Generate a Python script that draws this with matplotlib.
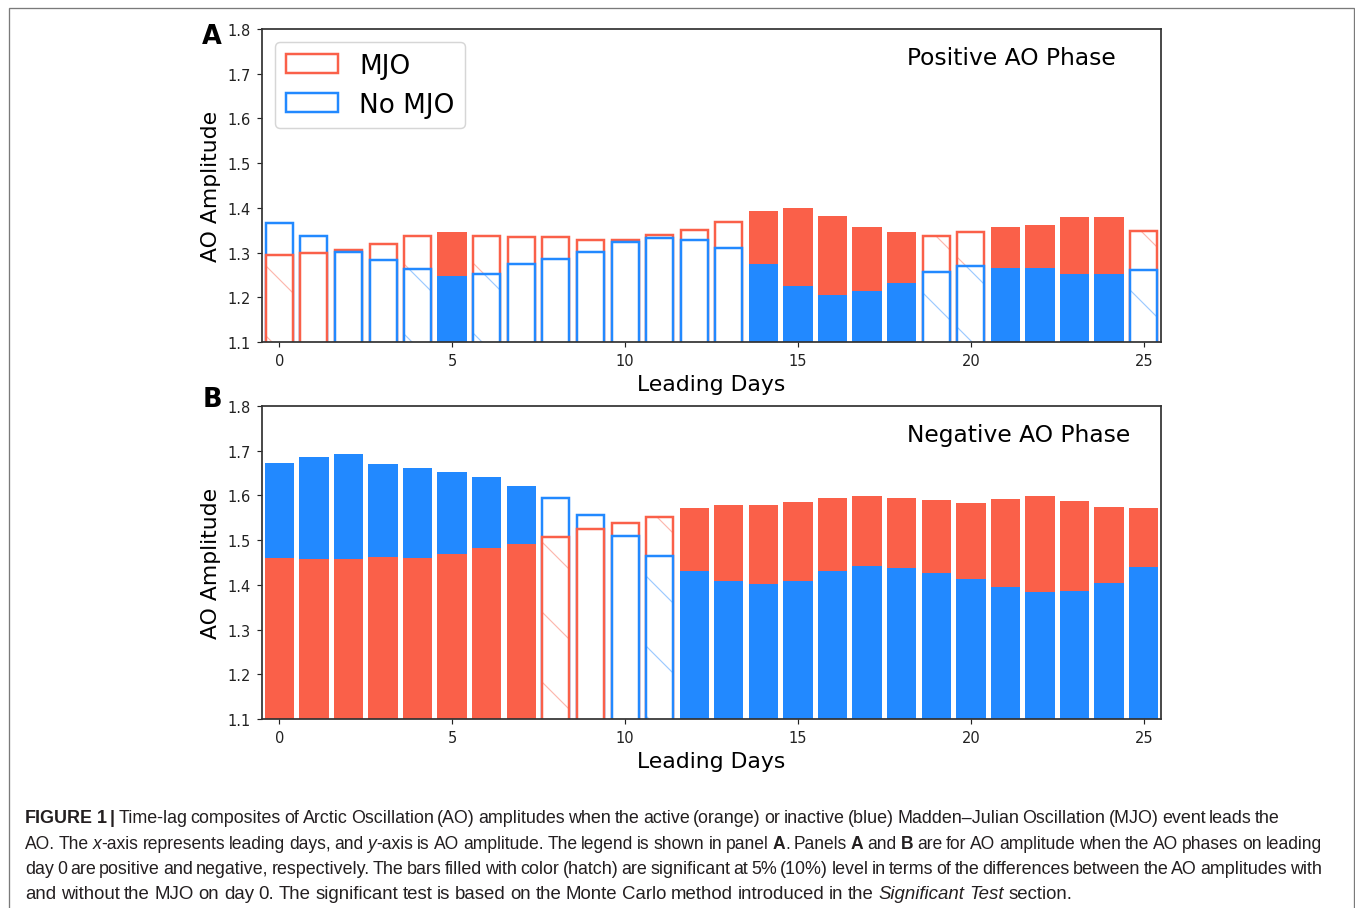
import matplotlib
matplotlib.use('Agg')
import matplotlib.pyplot as plt
from matplotlib.patches import Patch, Rectangle
from matplotlib.colors import to_rgba
from matplotlib import font_manager as fm

# ---------------- data ----------------
days = list(range(26))
xtick_vals = [0, 5, 10, 15, 20, 25]
ytick_vals = [1.1, 1.2, 1.3, 1.4, 1.5, 1.6, 1.7, 1.8]
ytick_labels = ['1.1', '1.2', '1.3', '1.4', '1.5', '1.6', '1.7', '1.8']

# Panel A: positive AO phase
pos_mjo = [1.295, 1.298, 1.306, 1.319, 1.338, 1.345, 1.338, 1.335, 1.335, 1.328,
           1.328, 1.340, 1.351, 1.368, 1.393, 1.399, 1.381, 1.358, 1.345, 1.337,
           1.345, 1.358, 1.361, 1.379, 1.379, 1.349]
pos_nomjo = [1.366, 1.338, 1.301, 1.284, 1.264, 1.247, 1.253, 1.275, 1.285, 1.302,
             1.323, 1.333, 1.327, 1.311, 1.274, 1.226, 1.204, 1.214, 1.233, 1.257,
             1.271, 1.265, 1.265, 1.253, 1.251, 1.260]
# significance: 'f' = 5% (filled), 'h' = 10% (hatch), 'n' = not significant
pos_sig = ['h', 'n', 'n', 'n', 'h', 'f', 'h', 'n', 'n', 'n', 'n', 'n', 'n',
           'n', 'f', 'f', 'f', 'f', 'f', 'h', 'h', 'f', 'f', 'f', 'f', 'h']

# Panel B: negative AO phase
neg_mjo = [1.459, 1.457, 1.457, 1.462, 1.460, 1.469, 1.482, 1.492, 1.506, 1.526,
           1.539, 1.552, 1.571, 1.578, 1.579, 1.586, 1.595, 1.599, 1.595, 1.590,
           1.584, 1.592, 1.599, 1.588, 1.575, 1.571]
neg_nomjo = [1.673, 1.687, 1.692, 1.670, 1.661, 1.653, 1.641, 1.621, 1.594, 1.556,
             1.510, 1.465, 1.432, 1.408, 1.401, 1.408, 1.431, 1.443, 1.437, 1.426,
             1.413, 1.396, 1.383, 1.386, 1.404, 1.440]
neg_sig = ['f', 'f', 'f', 'f', 'f', 'f', 'f', 'f', 'h', 'n', 'n', 'h', 'f',
           'f', 'f', 'f', 'f', 'f', 'f', 'f', 'f', 'f', 'f', 'f', 'f', 'f']

panel_titles = ['Positive AO Phase', 'Negative AO Phase']
panel_letters = ['A', 'B']
legend_labels = ['MJO', 'No MJO']

caption_lines = [
    [("FIGURE 1 |", 'b'),
     (" Time-lag composites of Arctic Oscillation (AO) amplitudes when the active (orange) or inactive (blue) Madden\u2013Julian Oscillation (MJO) event leads the", 'n')],
    [("AO. The ", 'n'), ("x", 'i'), ("-axis represents leading days, and ", 'n'), ("y", 'i'),
     ("-axis is AO amplitude. The legend is shown in panel ", 'n'), ("A", 'b'),
     (". Panels ", 'n'), ("A", 'b'), (" and ", 'n'), ("B", 'b'),
     (" are for AO amplitude when the AO phases on leading", 'n')],
    [("day 0 are positive and negative, respectively. The bars filled with color (hatch) are significant at 5% (10%) level in terms of the differences between the AO amplitudes with", 'n')],
    [("and without the MJO on day 0. The significant test is based on the Monte Carlo method introduced in the ", 'n'),
     ("Significant Test", 'i'), (" section.", 'n')],
]

# ---------------- style ----------------
RED = '#FA6049'
BLUE = '#2289FF'
W, H, DPI = 1355, 909, 210
plt.rcParams['font.family'] = ['DejaVu Sans']
plt.rcParams['hatch.linewidth'] = 0.4

fig = plt.figure(figsize=(W / DPI, H / DPI), dpi=DPI)


def fx(px):
    return px / W


def fy(py):
    return 1 - py / H


axA = fig.add_axes([fx(262), fy(343), fx(1161) - fx(262), fy(30) - fy(343)])
axB = fig.add_axes([fx(262), fy(720), fx(1161) - fx(262), fy(407) - fy(720)])


def draw_bar(ax, x, val, color, sig, z):
    if sig == 'f':
        ax.bar(x, val, width=0.85, color=color, linewidth=0, zorder=z)
    else:
        if sig == 'h':
            ax.bar(x, val, width=0.78, facecolor='white', edgecolor=to_rgba(color, 0.45),
                   linewidth=0, hatch='\\', zorder=z)
            face = 'none'
        else:
            face = 'white'
        ax.bar(x, val, width=0.78, facecolor=face, edgecolor=color, linewidth=0.85, zorder=z)


def draw_panel(ax, mjo, nomjo, sig, title):
    for d, m, n, s in zip(days, mjo, nomjo, sig):
        pairs = [(m, RED), (n, BLUE)]
        pairs.sort(key=lambda p: -p[0])  # larger behind, smaller in front
        for k, (v, c) in enumerate(pairs):
            draw_bar(ax, d, v, c, s, 1 + 0.1 * k)
    ax.set_xlim(-0.5, 25.5)
    ax.set_ylim(1.1, 1.8)
    ax.set_xticks(xtick_vals)
    ax.set_yticks(ytick_vals)
    ax.set_yticklabels(ytick_labels)
    ax.tick_params(labelsize=5.0, length=1.8, width=0.4, pad=2, colors='#222222')
    for sp in ax.spines.values():
        sp.set_linewidth(0.6)
        sp.set_color('#333333')
    ax.set_xlabel('Leading Days', fontsize=7.5, labelpad=2.2)
    ax.set_ylabel('AO Amplitude', fontsize=7.5, labelpad=2.2)
    ax.text(0.718, 0.91, title, transform=ax.transAxes, fontsize=8,
            ha='left', va='center')


draw_panel(axA, pos_mjo, pos_nomjo, pos_sig, panel_titles[0])
draw_panel(axB, neg_mjo, neg_nomjo, neg_sig, panel_titles[1])

handles = [Patch(facecolor='white', edgecolor=RED, linewidth=0.85, label=legend_labels[0]),
           Patch(facecolor='white', edgecolor=BLUE, linewidth=0.85, label=legend_labels[1])]
leg = axA.legend(handles=handles, loc='upper left', fontsize=9.0, borderaxespad=0.5)
leg.get_frame().set_linewidth(0.5)
leg.get_frame().set_edgecolor('#cccccc')

for letter, py in zip(panel_letters, [37, 400]):
    fig.text(fx(212), fy(py), letter, fontsize=8.8, fontweight='bold', ha='center', va='center')

# figure border
fig.patches.append(Rectangle((fx(8.5), -0.05), fx(1354) - fx(8.5), fy(8.5) + 0.05,
                             transform=fig.transFigure, fill=False,
                             edgecolor='#7a7a7a', linewidth=0.45))

# ---------------- caption ----------------
names = {f.name for f in fm.fontManager.ttflist}
REG = 'Liberation Sans' if 'Liberation Sans' in names else 'DejaVu Sans'
NAR = 'Liberation Sans Narrow' if 'Liberation Sans Narrow' in names else REG
CAP_SIZE = 6.4
CAP_COLOR = '#231F20'
renderer = fig.canvas.get_renderer()

cap_centers = [817, 843, 868, 893]
cap_rights = [1280, 1322, 1322, 1072]
cap_left = 25


def style_kw(st, family, size):
    kw = dict(fontsize=size, color=CAP_COLOR, family=family)
    if st == 'b':
        kw['fontweight'] = 'bold'
    if st == 'i':
        kw['fontstyle'] = 'italic'
    return kw


def tokenize(segs):
    tokens, cur = [], []
    for txt, st in segs:
        buf = ''
        for ch in txt:
            if ch == ' ':
                if buf:
                    cur.append((buf, st))
                    buf = ''
                if cur:
                    tokens.append(cur)
                    cur = []
            else:
                buf += ch
        if buf:
            cur.append((buf, st))
    if cur:
        tokens.append(cur)
    return tokens


def measure(piece, st, family, size):
    t = fig.text(0, 0, piece, **style_kw(st, family, size))
    w = t.get_window_extent(renderer=renderer).width
    t.remove()
    return w


for segs, cy, right in zip(caption_lines, cap_centers, cap_rights):
    tokens = tokenize(segs)
    gaps = max(len(tokens) - 1, 1)
    family, size = REG, CAP_SIZE
    for fam in ([REG, NAR] if NAR != REG else [REG]):
        family = fam
        space_nat = measure('a a', 'n', fam, size) - measure('aa', 'n', fam, size)
        widths = [[measure(p, st, fam, size) for p, st in tok] for tok in tokens]
        total = sum(sum(w) for w in widths)
        space = (right - cap_left - total) / gaps
        if space >= 0.6 * space_nat:
            break
    while space < 0.6 * space_nat:
        size *= 0.98
        space_nat = measure('a a', 'n', family, size) - measure('aa', 'n', family, size)
        widths = [[measure(p, st, family, size) for p, st in tok] for tok in tokens]
        total = sum(sum(w) for w in widths)
        space = (right - cap_left - total) / gaps
    x = cap_left
    for tok, ws in zip(tokens, widths):
        for (p, st), w in zip(tok, ws):
            fig.text(fx(x), fy(cy), p, ha='left', va='center_baseline',
                     **style_kw(st, family, size))
            x += w
        x += space

fig.savefig('out.png', dpi=DPI, facecolor='white')
